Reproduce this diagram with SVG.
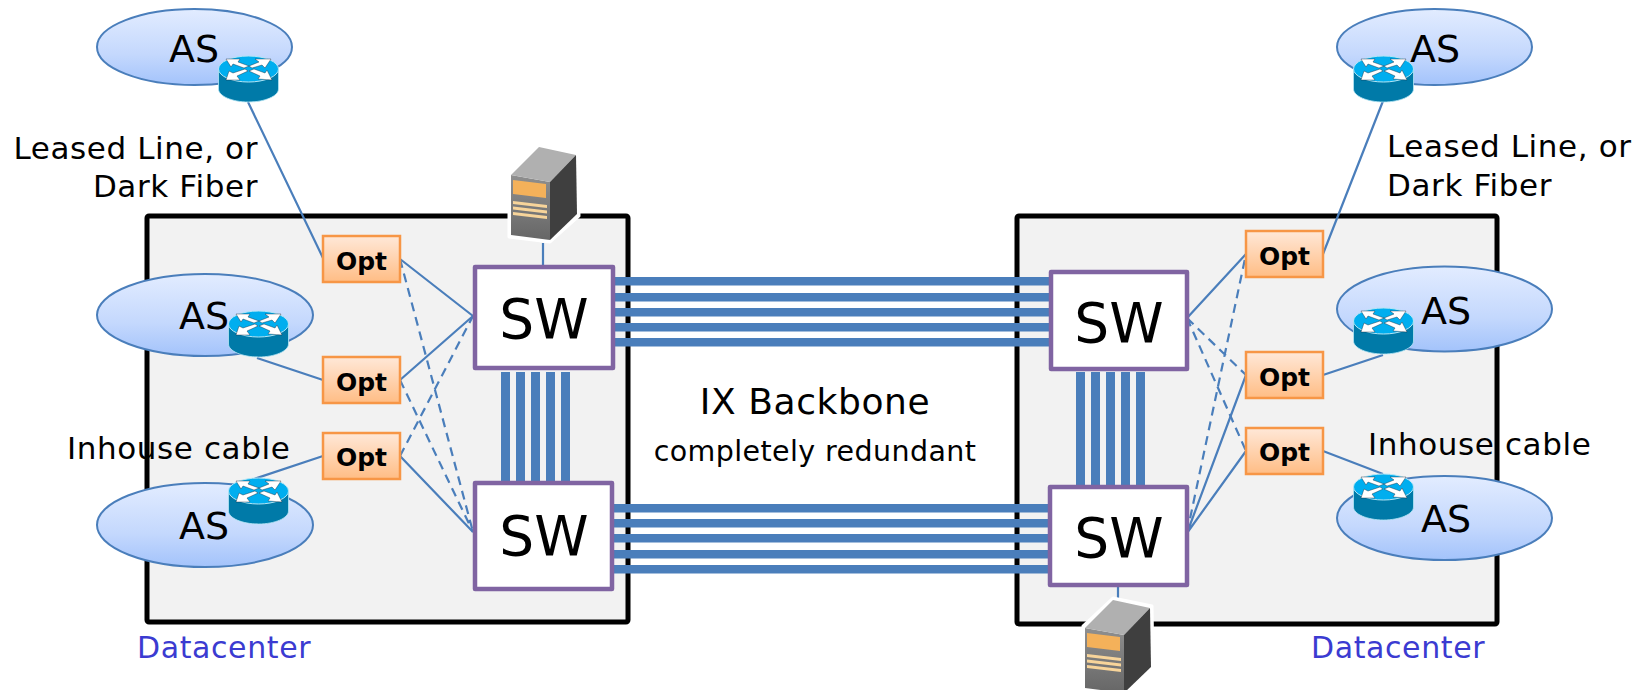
<svg xmlns="http://www.w3.org/2000/svg" width="1639" height="690" viewBox="0 0 1639 690">
<style>
text{font-family:"DejaVu Sans",Verdana,sans-serif;fill:#000}
.dc{fill:#f2f2f2;stroke:#000;stroke-width:5}
.as{fill:url(#asg);stroke:#4a7ebb;stroke-width:2}
.opt{fill:url(#optg);stroke:#f79646;stroke-width:2.5}
.sw{fill:#fff;stroke:#8064a2;stroke-width:4.5;stroke-linejoin:round}
.l{stroke:#4a7ebb;stroke-width:2.2;fill:none}
.d{stroke:#4a7ebb;stroke-width:2.2;fill:none;stroke-dasharray:9 6}
.bar{fill:#4a7ebb}
.ast{font-size:38px;text-anchor:middle}
.swt{font-size:55px;text-anchor:middle}
.optt{font-size:25px;font-weight:bold;text-anchor:middle}
.lab{font-size:31px;letter-spacing:0.6px}
.dct{font-size:30px;letter-spacing:0.6px;fill:#3b3bd1}
</style>
<defs>
<linearGradient id="asg" x1="0" y1="0" x2="0" y2="1"><stop offset="0" stop-color="#e2ecff"/><stop offset="0.6" stop-color="#c4d8fd"/><stop offset="1" stop-color="#a3c3fb"/></linearGradient>
<linearGradient id="optg" x1="0" y1="0" x2="0" y2="1"><stop offset="0" stop-color="#ffe8d8"/><stop offset="1" stop-color="#ffbd85"/></linearGradient>
<linearGradient id="srvf" x1="0" y1="0" x2="0" y2="1"><stop offset="0" stop-color="#8f8f8f"/><stop offset="1" stop-color="#666"/></linearGradient>
<g id="router">
<path d="M0.5 13V33C0.5 40 14 46 30.5 46S60.5 40 60.5 33V13Z" fill="#007aa8" stroke="#b5e6f5" stroke-width="0.8"/>
<ellipse cx="30.5" cy="13" rx="30" ry="13" fill="#00aeef" stroke="#b5e6f5" stroke-width="1"/>
<g fill="#fff" stroke="#123" stroke-width="0.4">
<path d="M8 3L22 3L20 6L31 10L26 12L15 8L13 11Z"/>
<path d="M53 3L47 12L44 9L34 12L31 10L41 6L37 3Z"/>
<path d="M8 24L11 15L15 17L27 13L30 15L19 20L22 24Z"/>
<path d="M54 24L40 23L42 20L31 15L36 13L47 17L49 14Z"/>
</g>
</g>
<g id="server">
<path d="M-2 33L28 5L67 13L68 76L39 102L-2 97Z" fill="#fff" stroke="#fff" stroke-width="3" stroke-linejoin="round"/>
<path d="M0 35L39 42L39 100L0 95Z" fill="url(#srvf)"/>
<path d="M0 35L28 7L65 15L39 42Z" fill="#b0b0b0"/>
<path d="M39 42L65 15L66 74L39 100Z" fill="#3f3f3f"/>
<path d="M2 40L35 44L35 58L2 54Z" fill="#f4b15a"/>
<path d="M2 61L36 65L36 68L2 64ZM2 66.500L36 70.500L36 73.500L2 69.500ZM2 72L36 76L36 79L2 75Z" fill="#f7d49a"/>
</g>
</defs>

<g id="datacenter-left"><rect class="dc" x="147" y="216" width="481" height="406" rx="2"/></g>
<g id="datacenter-right"><rect class="dc" x="1017" y="216" width="480" height="408" rx="2"/></g>

<g id="connectors">
<path class="l" d="M248 102L323 258M257 358L323 380M245 482L323 456M400 259L473 316M400 380L473 316M400 456L473 532M543 243V266"/>
<path class="d" d="M400 456L473 316M400 380L473 532M400 259L473 532"/>
<path class="l" d="M1187 318L1246 254M1187 533L1246 375M1187 533L1246 451M1383 101L1323 254M1383 355L1323 375M1383 474L1323 451M1118 586V600"/>
<path class="d" d="M1187 318L1246 375M1187 318L1246 451M1187 533L1246 254"/>
<g class="bar">
<rect x="613" y="277" width="437" height="8.500"/><rect x="613" y="293" width="437" height="8.500"/><rect x="613" y="308" width="437" height="8.500"/><rect x="613" y="323" width="437" height="8.500"/><rect x="613" y="338" width="437" height="8.500"/>
<rect x="612" y="504" width="438" height="8.500"/><rect x="612" y="519" width="438" height="8.500"/><rect x="612" y="534" width="438" height="8.500"/><rect x="612" y="550" width="438" height="8.500"/><rect x="612" y="565" width="438" height="8.500"/>
<rect x="501" y="372" width="9" height="110"/><rect x="516" y="372" width="9" height="110"/><rect x="531" y="372" width="9" height="110"/><rect x="546" y="372" width="9" height="110"/><rect x="561" y="372" width="9" height="110"/>
<rect x="1076" y="372" width="9" height="114"/><rect x="1091" y="372" width="9" height="114"/><rect x="1106" y="372" width="9" height="114"/><rect x="1121" y="372" width="9" height="114"/><rect x="1136" y="372" width="9" height="114"/>
</g>
</g>

<g id="as-tl"><ellipse class="as" cx="194.500" cy="47" rx="97.500" ry="38"/><text class="ast" x="194" y="62">AS</text><use href="#router" x="218" y="56"/></g>
<g id="as-ml"><ellipse class="as" cx="205" cy="315" rx="108" ry="41"/><text class="ast" x="204" y="329">AS</text><use href="#router" x="228" y="311"/></g>
<g id="as-bl"><ellipse class="as" cx="205" cy="525" rx="108" ry="42"/><text class="ast" x="204" y="539">AS</text><use href="#router" x="228" y="478"/></g>
<g id="as-tr"><ellipse class="as" cx="1434.500" cy="47" rx="97.500" ry="38"/><text class="ast" x="1435" y="62">AS</text><use href="#router" x="1353" y="56"/></g>
<g id="as-mr"><ellipse class="as" cx="1444.500" cy="309" rx="107.500" ry="42.500"/><text class="ast" x="1446" y="324">AS</text><use href="#router" x="1353" y="308"/></g>
<g id="as-br"><ellipse class="as" cx="1444.500" cy="518" rx="107.500" ry="42"/><text class="ast" x="1446" y="532">AS</text><use href="#router" x="1353" y="474"/></g>

<g id="opt-l1"><rect class="opt" x="323" y="236" width="77" height="46"/><text class="optt" x="361.500" y="270">Opt</text></g>
<g id="opt-l2"><rect class="opt" x="323" y="357" width="77" height="46"/><text class="optt" x="361.500" y="390.500">Opt</text></g>
<g id="opt-l3"><rect class="opt" x="323" y="433" width="77" height="46"/><text class="optt" x="361.500" y="466">Opt</text></g>
<g id="opt-r1"><rect class="opt" x="1246" y="231" width="77" height="46"/><text class="optt" x="1284.500" y="265">Opt</text></g>
<g id="opt-r2"><rect class="opt" x="1246" y="352" width="77" height="46"/><text class="optt" x="1284.500" y="385.500">Opt</text></g>
<g id="opt-r3"><rect class="opt" x="1246" y="428" width="77" height="46"/><text class="optt" x="1284.500" y="461">Opt</text></g>

<g id="sw-tl"><rect class="sw" x="475" y="267" width="138" height="101"/><text class="swt" x="544" y="338">SW</text></g>
<g id="sw-bl"><rect class="sw" x="475" y="483" width="137" height="106"/><text class="swt" x="544" y="555">SW</text></g>
<g id="sw-tr"><rect class="sw" x="1051" y="272" width="136" height="97"/><text class="swt" x="1119" y="342">SW</text></g>
<g id="sw-br"><rect class="sw" x="1050" y="487" width="137" height="98"/><text class="swt" x="1119" y="557">SW</text></g>

<g id="server-l"><use href="#server" x="511" y="140"/></g>
<g id="server-r"><use href="#server" x="1085" y="593"/></g>

<g id="labels">
<text class="lab" x="258" y="159" text-anchor="end">Leased Line, or</text>
<text class="lab" x="258" y="197" text-anchor="end">Dark Fiber</text>
<text class="lab" x="67" y="459">Inhouse cable</text>
<text class="lab" x="1387" y="157">Leased Line, or</text>
<text class="lab" x="1387" y="196">Dark Fiber</text>
<text class="lab" x="1368" y="455">Inhouse cable</text>
<text x="815" y="414" font-size="36" letter-spacing="0.6" text-anchor="middle">IX Backbone</text>
<text x="815" y="461" font-size="28.500" letter-spacing="0.4" text-anchor="middle">completely redundant</text>
<text class="dct" x="137" y="658">Datacenter</text>
<text class="dct" x="1311" y="658">Datacenter</text>
</g>
</svg>
